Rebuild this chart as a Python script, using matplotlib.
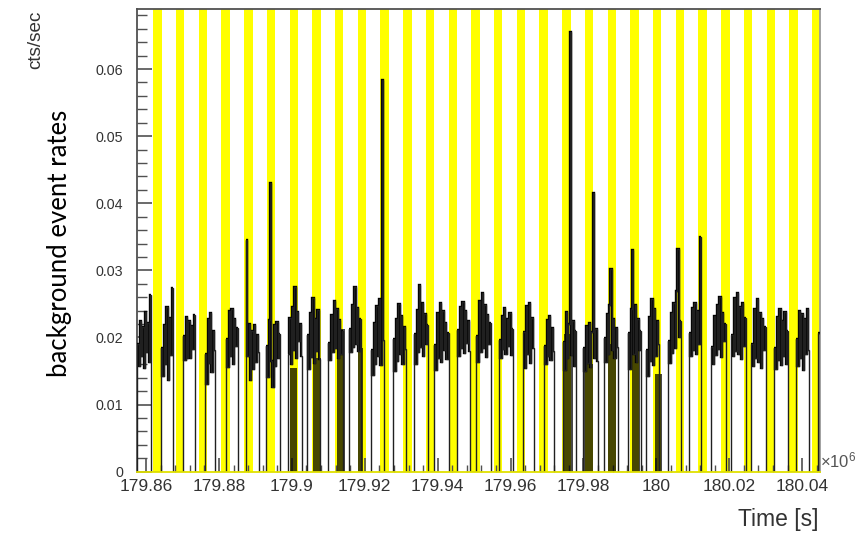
import numpy as np
import matplotlib.pyplot as plt
from matplotlib.ticker import MultipleLocator, FuncFormatter

# time axis in units of 1e6 s
x_min, x_max = 179.8576, 180.0449
y_max = 0.0689

# yellow bands (start times, 1e6 s), all the same width
band_starts = [179.86198, 179.86821, 179.87444, 179.88067, 179.88691, 179.89314,
               179.89937, 179.90560, 179.91183, 179.91806, 179.92430, 179.93053,
               179.93676, 179.94299, 179.94922, 179.95545, 179.96168, 179.96792,
               179.97415, 179.98038, 179.98661, 179.99284, 179.99907, 180.00530,
               180.01154, 180.01777, 180.02400, 180.03023, 180.03646, 180.04269]
band_width = 0.00233

# data segments between dropouts: start, end (1e6 s) and rates in 1e-3 cts/sec
seg_start = [179.85761, 179.86412, 179.87015, 179.87619, 179.88195, 179.88744,
             179.89293, 179.89896, 179.90418, 179.90994, 179.91570, 179.92174,
             179.92778, 179.93354, 179.93903, 179.94534, 179.95055, 179.95686,
             179.96345, 179.96921, 179.97442, 179.97991, 179.98567, 179.99226,
             179.99720, 180.00323, 180.00900, 180.01503, 180.02052, 180.02601,
             180.03232, 180.03836, 180.04439]
seg_end = [179.86137, 179.86741, 179.87345, 179.87893, 179.88524, 179.89101,
           179.89677, 179.90281, 179.90774, 179.91406, 179.91900, 179.92531,
           179.93134, 179.93738, 179.94314, 179.94890, 179.95467, 179.96070,
           179.96646, 179.97195, 179.97799, 179.98403, 179.98951, 179.99582,
           180.00076, 180.00680, 180.01229, 180.01915, 180.02464, 180.03012,
           180.03616, 180.04192, 180.04490]
seg_rates = [
    [19.0, 15.8, 22.4, 17.2, 21.6, 15.4, 23.8, 17.9, 22.1, 16.3, 26.3],
    [18.5, 14.2, 21.8, 16.0, 24.6, 13.6, 22.9, 17.4, 27.3],
    [20.2, 16.6, 23.1, 17.0, 22.4, 16.9, 21.7, 18.3, 23.4],
    [17.5, 13.0, 22.8, 16.2, 23.6, 14.8, 21.0, 18.1],
    [19.8, 15.6, 23.9, 17.3, 24.3, 16.1, 22.7, 18.8, 21.4],
    [34.5, 17.2, 22.0, 13.7, 20.9, 15.3, 21.8, 16.4, 20.3, 17.9],
    [18.8, 14.1, 22.6, 43.0, 16.5, 12.6, 21.9, 15.8, 22.3, 17.0, 20.5],
    [17.6, 22.9, 16.1, 24.5, 18.2, 27.5, 16.9, 23.8, 19.4, 22.0, 17.3],
    [20.4, 15.3, 23.7, 17.1, 25.9, 16.2, 22.8, 18.0, 24.1, 16.8],
    [19.2, 16.7, 23.3, 17.8, 25.5, 18.4, 24.2, 16.9, 22.6, 17.5, 21.0],
    [21.3, 17.8, 24.9, 18.6, 27.5, 19.1, 24.4, 18.0, 22.7],
    [18.2, 14.4, 22.1, 16.0, 24.7, 17.3, 25.8, 15.9, 58.4, 19.6],
    [19.7, 15.0, 22.8, 16.5, 25.0, 17.6, 23.2, 16.1, 21.5, 18.3],
    [20.5, 16.0, 24.1, 17.9, 27.8, 18.6, 25.2, 17.2, 23.5, 19.0, 21.9],
    [18.9, 15.2, 23.6, 17.0, 25.1, 16.4, 24.0, 18.1, 22.2, 16.8, 20.7],
    [21.1, 17.2, 24.6, 18.5, 25.3, 17.7, 23.9, 19.2, 22.4, 18.0],
    [20.2, 16.3, 25.4, 17.8, 26.6, 18.5, 24.8, 17.1, 23.3, 19.0, 22.1],
    [19.6, 17.0, 23.2, 18.3, 24.4, 17.5, 22.8, 18.8, 23.6, 17.4, 21.2],
    [20.8, 15.4, 24.7, 17.6, 25.1, 16.2, 22.9, 18.4],
    [18.7, 16.1, 22.6, 17.3, 23.2, 16.6, 21.4, 18.0],
    [19.3, 15.2, 23.8, 16.9, 22.0, 65.5, 17.4, 22.5, 15.8, 21.0],
    [18.4, 15.0, 21.7, 16.2, 22.1, 15.6, 20.8, 41.5, 17.0, 21.3, 16.5],
    [19.9, 16.3, 23.5, 17.6, 24.8, 30.2, 18.1, 22.7, 16.9, 21.4, 18.6],
    [20.6, 15.3, 24.2, 33.0, 17.5, 24.9, 16.4, 22.8, 18.2, 21.0],
    [18.1, 14.3, 23.0, 16.5, 25.7, 15.9, 24.3, 17.2, 22.4, 19.0],
    [19.4, 16.2, 23.6, 17.7, 25.1, 18.4, 26.9, 33.2, 20.1, 22.5],
    [20.7, 17.3, 24.4, 18.1, 25.2, 17.6, 23.9, 19.0, 35.0],
    [18.6, 16.0, 23.2, 17.4, 24.8, 18.3, 26.0, 17.1, 23.7, 19.5, 22.0],
    [20.3, 17.2, 25.9, 18.0, 26.6, 17.5, 24.5, 16.8, 25.2, 18.7, 22.9],
    [19.1, 15.8, 24.3, 17.0, 25.8, 16.4, 23.6, 15.5, 22.7, 18.1, 21.5],
    [18.4, 15.3, 23.0, 16.6, 24.2, 15.9, 22.4, 17.3, 23.8, 16.0, 20.9],
    [19.8, 15.7, 24.0, 16.9, 23.5, 15.2, 22.8, 17.6, 24.3, 18.2],
    [20.7],
]

# stretches of very short bins flickering between 0 and the rate (look olive on yellow)
dense_start = [179.89951, 179.90582, 179.91241, 179.91817, 179.97470,
               179.98018, 179.98677, 179.99336, 179.99967]
dense_end = [179.90143, 179.90802, 179.91460, 179.91954, 179.97717,
             179.98265, 179.98897, 179.99555, 180.00159]
dense_top = [15.5, 17.0, 21.3, 18.5, 20.5, 16.0, 19.0, 21.0, 14.6]

plt.rcParams['mathtext.fontset'] = 'custom'
plt.rcParams['mathtext.rm'] = 'Liberation Sans'
plt.rcParams['mathtext.it'] = 'Liberation Sans'

fig = plt.figure(figsize=(8.67, 5.34), dpi=100)
ax = fig.add_axes([0.1584, 0.1167, 0.7874, 0.8659])

# yellow bands
for s in band_starts:
    ax.axvspan(s, s + band_width, color='#ffff00', lw=0, zorder=1)

# dense dropout stretches
ax.bar(dense_start, np.array(dense_top) / 1000,
       width=np.array(dense_end) - np.array(dense_start),
       align='edge', color='black', alpha=0.72, lw=0, zorder=2)

# build one step histogram with zero rate between segments
edges = [x_min]
vals = []
for s, e, r in zip(seg_start, seg_end, seg_rates):
    if s > edges[-1]:
        vals.append(0.0)
        edges.append(s)
    seg_edges = np.linspace(s, e, len(r) + 1)
    edges.extend(seg_edges[1:])
    vals.extend(np.array(r) / 1000)
    # heavier trace inside each segment, so the fast flicker reads as a solid band
    ax.stairs(np.array(r) / 1000, seg_edges, baseline=None, color='black', lw=1.7, zorder=3)
if edges[-1] < x_max:
    vals.append(0.0)
    edges.append(x_max)
ax.stairs(vals, edges, color='#202020', lw=1.0, zorder=3)

ax.set_xlim(x_min, x_max)
ax.set_ylim(0, y_max)

frame_col = '#505050'
for side in ['left', 'top', 'right']:
    ax.spines[side].set_color(frame_col)
    ax.spines[side].set_linewidth(1.3)
ax.spines['right'].set_color('#9a9a9a')
ax.spines['bottom'].set_color('#e0e000')
ax.spines['bottom'].set_linewidth(1.3)
ax.spines['bottom'].set_zorder(4)

ax.yaxis.set_major_locator(MultipleLocator(0.01))
ax.yaxis.set_minor_locator(MultipleLocator(0.002))
ax.xaxis.set_major_locator(MultipleLocator(0.02))
ax.xaxis.set_minor_locator(MultipleLocator(0.004))
ax.yaxis.set_major_formatter(FuncFormatter(lambda v, p: '0' if abs(v) < 1e-9 else '%.2f' % v))
ax.xaxis.set_major_formatter(FuncFormatter(lambda v, p: '%g' % round(v, 2)))

ax.tick_params(axis='y', which='major', direction='in', length=11, width=1.2,
               color=frame_col, pad=10, labelsize=10.3, labelcolor='#333333')
ax.tick_params(axis='y', which='minor', direction='in', length=7, width=1.0, color=frame_col)
ax.tick_params(axis='x', which='major', direction='in', length=10, width=1.2,
               color=frame_col, pad=5, labelsize=12.5, labelcolor='#333333')
ax.tick_params(axis='x', which='minor', direction='in', length=5, width=1.0, color=frame_col)
for lab in ax.get_xticklabels() + ax.get_yticklabels():
    lab.set_family('Liberation Sans')

fig.text(0.9435, 0.028, 'Time [s]', ha='right', va='center', fontsize=16.5,
         family='Liberation Sans', color='#333333')
fig.text(0.946, 0.118, r'$\times10^{6}$', ha='left', va='bottom', fontsize=12,
         color='#555555')
fig.text(0.041, 0.981, 'cts/sec', rotation=90, ha='center', va='top', fontsize=13.6,
         family='Liberation Sans', color='#333333')
fig.text(0.0686, 0.544, 'background event rates', rotation=90, ha='center', va='center',
         fontsize=18.5, family='Lato', color='black')

fig.savefig('out.png', dpi=100)
